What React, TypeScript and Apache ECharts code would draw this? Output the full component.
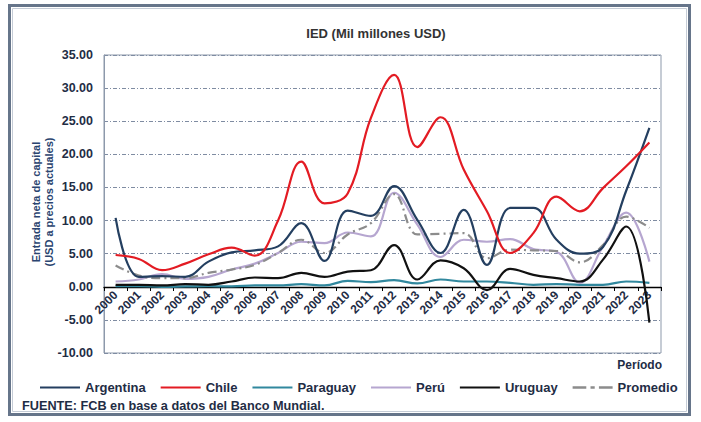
import React, { useEffect, useRef } from "react";
import * as echarts from "echarts";

const years = ["2000","2001","2002","2003","2004","2005","2006","2007","2008","2009","2010","2011","2012","2013","2014","2015","2016","2017","2018","2019","2020","2021","2022","2023"];
const argentina = [10.4, 1.5, 1.6, 1.5, 3.8, 5.2, 5.5, 6.1, 9.6, 3.9, 11.5, 10.7, 15.2, 10.1, 5.1, 11.6, 3.3, 11.9, 11.9, 7.1, 5.0, 6.0, 14.5, 24.0];
const chile = [4.8, 4.2, 2.5, 3.5, 4.9, 5.9, 4.7, 10.0, 18.9, 12.6, 14.1, 25.5, 32.0, 21.1, 25.6, 17.7, 11.4, 5.1, 8.1, 13.6, 11.4, 14.9, 18.2, 21.8];
const paraguay = [0.1, 0.1, 0.0, 0.05, 0.1, 0.05, 0.2, 0.2, 0.4, 0.2, 0.9, 0.7, 1.0, 0.5, 1.1, 0.8, 0.8, 0.6, 0.3, 0.4, 0.3, 0.3, 0.8, 0.6];
const peru = [0.8, 1.1, 1.9, 1.2, 1.5, 2.6, 3.5, 5.1, 6.8, 6.6, 8.2, 7.6, 14.2, 9.4, 4.5, 7.1, 6.8, 7.2, 5.7, 5.3, 0.6, 6.1, 11.2, 3.8];
const uruguay = [0.3, 0.3, 0.2, 0.4, 0.3, 0.8, 1.4, 1.3, 2.1, 1.5, 2.3, 2.5, 6.3, 1.1, 4.0, 2.8, -0.5, 2.7, 1.8, 1.3, 0.8, 4.1, 9.1, -5.4];
const promedio = [3.2, 1.7, 1.3, 1.3, 2.1, 2.6, 3.3, 5.1, 7.1, 5.1, 7.9, 9.6, 14.0, 7.9, 8.0, 8.1, 4.3, 5.6, 5.5, 5.4, 3.7, 6.3, 10.6, 8.9];

const FONT = "'Liberation Sans', Arial, sans-serif";
const NAVY = "#1F2D45";
const SOLID_ICON = "path://M0 0H40V2.2H0Z";
const DASH_ICON = "path://M0 0H13V2.2H0Z M17 0H21V2.2H17Z M25 0H38V2.2H25Z";

const COLORS = {
  Argentina: "#243F60",
  Chile: "#E31B23",
  Paraguay: "#31889E",
  Perú: "#B6A6D0",
  Uruguay: "#111111",
  Promedio: "#8C8C8C",
};

export default function App() {
  const ref = useRef<HTMLDivElement>(null);
  useEffect(() => {
    if (!ref.current) return;
    const chart = echarts.init(ref.current, null, { renderer: "svg" });
    const mk = (name: string, data: number[], color: string, width: number, type: any = "solid", z = 2) => ({
      name,
      type: "line",
      data,
      smooth: 0.4,
      symbol: "none",
      showSymbol: false,
      z,
      lineStyle: { color, width, type },
      itemStyle: { color },
    });
    const legendItem = (name: string, icon: string) => ({ name, icon, itemStyle: { color: (COLORS as any)[name] } });
    chart.setOption({
      animation: false,
      backgroundColor: "#ffffff",
      textStyle: { fontFamily: FONT },
      grid: { left: 104, top: 55, width: 557, height: 298, show: true, borderColor: "#8D99AB", borderWidth: 1, containLabel: false },
      legend: {
        left: 35,
        top: 376,
        itemWidth: 40,
        itemHeight: 14,
        itemGap: 15,
        textStyle: { fontFamily: FONT, fontSize: 13, fontWeight: "bold", color: NAVY },
        data: [
          legendItem("Argentina", SOLID_ICON),
          legendItem("Chile", SOLID_ICON),
          legendItem("Paraguay", SOLID_ICON),
          legendItem("Perú", SOLID_ICON),
          legendItem("Uruguay", SOLID_ICON),
          legendItem("Promedio", DASH_ICON),
        ],
      },
      xAxis: {
        type: "category",
        data: years,
        boundaryGap: true,
        position: "bottom",
        offset: -66,
        axisLine: { onZero: false, lineStyle: { color: "#000000", width: 1.3 } },
        axisTick: { show: true, length: 4, lineStyle: { color: "#000000" } },
        axisLabel: { interval: 0, rotate: 45, margin: 6, fontSize: 12, fontWeight: "bold", color: NAVY, fontFamily: FONT },
        splitLine: { show: false },
      },
      yAxis: {
        type: "value",
        min: -10,
        max: 35,
        interval: 5,
        axisLine: { show: true, lineStyle: { color: "#8D99AB" } },
        axisTick: { show: false },
        axisLabel: { margin: 11, fontSize: 12.5, fontWeight: "bold", color: NAVY, fontFamily: FONT, formatter: (v: number) => v.toFixed(2) },
        splitLine: { show: true, lineStyle: { color: "#7F8CA2", width: 1, type: [4, 2, 1, 2] } },
      },
      series: [
        mk("Argentina", argentina, COLORS.Argentina, 2.2, "solid", 3),
        mk("Chile", chile, COLORS.Chile, 2.2, "solid", 4),
        mk("Paraguay", paraguay, COLORS.Paraguay, 2.2, "solid", 2),
        mk("Perú", peru, COLORS["Perú"], 2.2, "solid", 2),
        mk("Uruguay", uruguay, COLORS.Uruguay, 2.2, "solid", 3),
        mk("Promedio", promedio, COLORS.Promedio, 2.2, [9, 4, 2, 4], 2),
      ],
      graphic: [
        { type: "rect", z: 0, silent: true, shape: { x: 9.5, y: 5.5, width: 680, height: 409 }, style: { fill: "none", stroke: "#66758A", lineWidth: 3 } },
        { type: "rect", z: 0, silent: true, shape: { x: 12.5, y: 8.5, width: 674, height: 403 }, style: { fill: "none", stroke: "#C5CCD6", lineWidth: 1 } },
        { type: "text", x: 376, y: 33, style: { text: "IED (Mil millones USD)", fontFamily: FONT, fontSize: 13, fontWeight: "bold", fill: "#333333", align: "center", verticalAlign: "middle" } },
        { type: "text", x: 42, y: 202, rotation: Math.PI / 2, style: { text: "Entrada neta de capital\n(USD a precios actuales)", fontFamily: FONT, fontSize: 11, fontWeight: "bold", fill: "#2B4570", align: "center", verticalAlign: "middle", lineHeight: 13 } },
        { type: "text", x: 662, y: 365, style: { text: "Período", fontFamily: FONT, fontSize: 12, fontWeight: "bold", fill: NAVY, align: "right", verticalAlign: "middle" } },
        { type: "text", x: 22, y: 406, style: { text: "FUENTE: FCB en base a datos del Banco Mundial.", fontFamily: FONT, fontSize: 12.7, fontWeight: "bold", fill: NAVY, align: "left", verticalAlign: "middle" } },
      ],
    });
    return () => chart.dispose();
  }, []);
  return <div ref={ref} style={{ position: "absolute", left: 0, top: 0, width: 701, height: 422, background: "#fff" }} />;
}
